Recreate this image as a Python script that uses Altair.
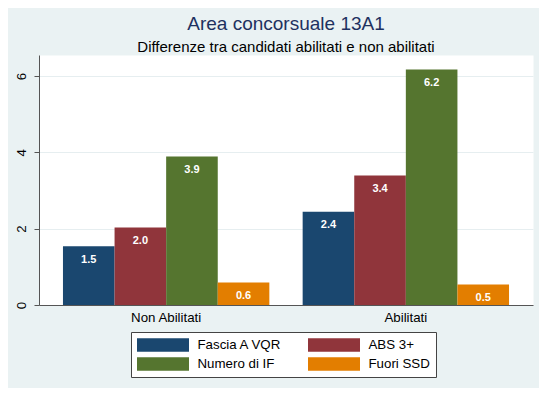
import altair as alt
import pandas as pd

groups = ["Non Abilitati", "Abilitati"]
series = ["Fascia A VQR", "ABS 3+", "Numero di IF", "Fuori SSD"]
values_non_abilitati = [1.54, 2.03, 3.89, 0.59]
values_abilitati = [2.44, 3.39, 6.17, 0.54]
colors = ["#1A476F", "#90353B", "#55752F", "#E37E00"]
y_ticks = [0, 2, 4, 6]

rows = []
for g, vals in zip(groups, [values_non_abilitati, values_abilitati]):
    for s, v in zip(series, vals):
        rows.append({"gruppo": g, "serie": s, "valore": v})
df = pd.DataFrame(rows)

FONT = "Liberation Sans"

x_enc = alt.X(
    "gruppo:N",
    sort=groups,
    title=None,
    scale=alt.Scale(paddingInner=0.139, paddingOuter=0.1),
    axis=alt.Axis(
        labelAngle=0, ticks=False, labelPadding=5, labelFontSize=13.3,
        labelFont=FONT, labelColor="black", domainColor="#555555",
        domainWidth=1, grid=False,
    ),
)
xo_enc = alt.XOffset("serie:N", sort=series,
                     scale=alt.Scale(paddingInner=0, paddingOuter=0))
y_enc = alt.Y(
    "valore:Q",
    title=None,
    scale=alt.Scale(domain=[0, 6.55], nice=False, zero=True),
    axis=alt.Axis(
        values=y_ticks, labelAngle=270, labelAlign="center",
        labelBaseline="bottom", labelPadding=6, tickSize=5,
        tickColor="#555555", domainColor="#555555", labelFontSize=13.3,
        labelFont=FONT, labelColor="black", grid=True,
        gridColor="#E6EEF0", gridWidth=1,
    ),
)
color_enc = alt.Color(
    "serie:N",
    sort=series,
    title=None,
    scale=alt.Scale(domain=series, range=colors),
    legend=alt.Legend(
        orient="none", legendX=92, legendY=277, columns=2,
        direction="horizontal",
        fillColor="white", strokeColor="#444444", padding=6,
        columnPadding=26, rowPadding=5,
        symbolType="M-1,-0.26H1V0.26H-1Z", symbolSize=2704,
        symbolStrokeWidth=0, symbolOpacity=1,
        labelFontSize=13.3, labelFont=FONT, labelColor="black",
        labelOffset=8.5, labelLimit=300, clipHeight=14,
    ),
)

bars = alt.Chart(df).mark_bar(size=51.6).encode(
    x=x_enc, xOffset=xo_enc, y=y_enc, color=color_enc
)
labels = alt.Chart(df).mark_text(
    color="white", baseline="alphabetic", dy=16.5, fontSize=11,
    fontWeight="bold", font=FONT,
).encode(
    x=x_enc, xOffset=xo_enc, y=y_enc,
    text=alt.Text("valore:Q", format=".1f"),
)

chart = alt.layer(bars, labels).properties(
    width=494,
    height=250,
    padding={"left": 31, "top": 47, "right": 6, "bottom": 83},
    autosize=alt.AutoSizeParams(type="none"),
    title=alt.TitleParams(
        text="Area concorsuale 13A1",
        subtitle="Differenze tra candidati abilitati e non abilitati",
        fontSize=19, subtitleFontSize=15, font=FONT, subtitleFont=FONT,
        fontWeight="normal", color="#1E3160", subtitleColor="black",
        anchor="middle", offset=0, subtitlePadding=6,
    ),
).configure(background="#EAF2F3").configure_view(
    fill="white", stroke="transparent"
)

chart.save("out.html", embed_options={"renderer": "svg", "actions": False})
